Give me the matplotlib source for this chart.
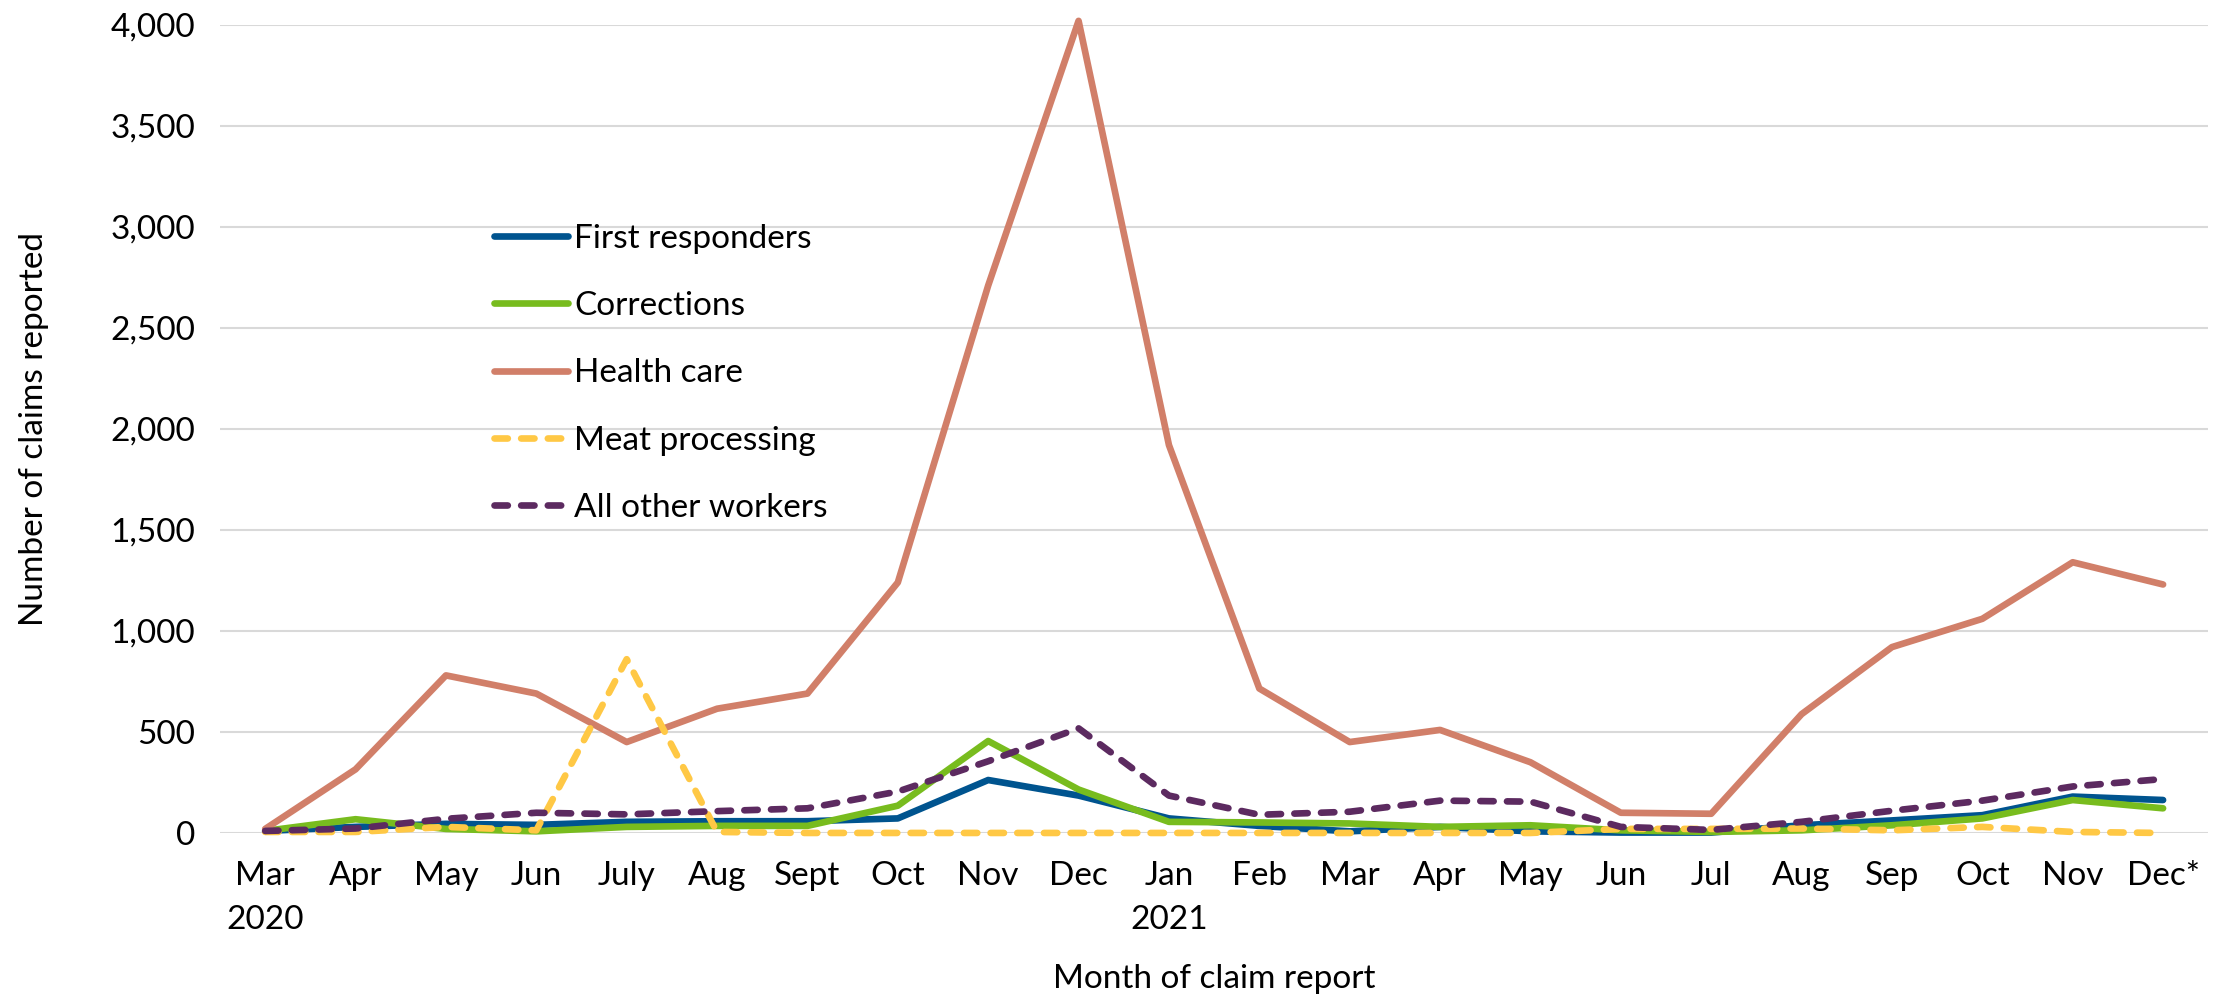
import matplotlib.pyplot as plt
import numpy as np

months = ['Mar\n2020', 'Apr', 'May', 'Jun', 'July', 'Aug', 'Sept', 'Oct', 'Nov', 'Dec',
          'Jan\n2021', 'Feb', 'Mar', 'Apr', 'May', 'Jun', 'Jul', 'Aug', 'Sep', 'Oct', 'Nov', 'Dec*']

first_responders = [10, 30, 45, 40, 55, 58, 58, 72, 262, 185,
                    72, 35, 8, 30, 8, 2, 2, 38, 62, 88, 180, 163]
corrections = [10, 68, 20, 8, 30, 35, 35, 135, 455, 215,
               55, 52, 47, 30, 38, 13, 5, 13, 38, 72, 163, 122]
health_care = [20, 315, 780, 690, 450, 615, 690, 1240, 2710, 4020,
               1920, 715, 450, 510, 350, 100, 95, 588, 920, 1060, 1340, 1230]
meat_processing = [5, 5, 30, 13, 860, 5, 0, 0, 0, 0,
                   0, 0, 0, 0, 0, 20, 20, 22, 13, 30, 5, 0]
all_other = [10, 22, 70, 100, 92, 108, 122, 205, 355, 518,
             185, 90, 105, 160, 155, 30, 15, 55, 110, 160, 230, 267]

plt.rcParams['font.family'] = ['Lato', 'DejaVu Sans']
fs = 24

fig = plt.figure(figsize=(22.29, 9.96), dpi=100)
ax = fig.add_axes([0.0987, 0.1637, 0.892, 0.8113])

x = np.arange(len(months))
lw = 4.8
ax.plot(x, first_responders, color='#00548f', lw=lw, label='First responders',
        solid_capstyle='round', clip_on=False)
ax.plot(x, corrections, color='#78bc1e', lw=lw, label='Corrections',
        solid_capstyle='round', clip_on=False)
ax.plot(x, health_care, color='#d17f69', lw=lw, label='Health care',
        solid_capstyle='round', clip_on=False)
ax.plot(x, meat_processing, color='#ffc845', lw=lw, ls=(0, (2.0, 2.0)), dash_capstyle='round',
        label='Meat processing', clip_on=False)
ax.plot(x, all_other, color='#5c2a60', lw=lw, ls=(0, (2.0, 2.0)), dash_capstyle='round',
        label='All other workers', clip_on=False)

ax.set_xlim(-0.5, len(months) - 0.5)
ax.set_ylim(0, 4000)
ax.set_yticks(np.arange(0, 4001, 500))
ax.yaxis.set_major_formatter(plt.FuncFormatter(lambda v, p: f'{int(v):,}'))
ax.set_xticks(x)
ax.set_xticklabels(months, va='top', linespacing=1.6)
ax.tick_params(axis='both', length=0, labelsize=fs)
ax.tick_params(axis='y', pad=18)
ax.tick_params(axis='x', pad=20)
ax.grid(axis='y', color='#d9d9d9', lw=1.5)
ax.set_axisbelow(True)
for s in ax.spines.values():
    s.set_visible(False)

ax.set_ylabel('Number of claims reported', fontsize=fs, labelpad=44)
ax.set_xlabel('Month of claim report', fontsize=fs, labelpad=21)

ax.legend(loc='upper left', bbox_to_anchor=(0.138, 0.754), frameon=False, fontsize=fs,
          handlelength=2.2, handletextpad=0.2, labelspacing=1.12, borderpad=0, borderaxespad=0)

fig.savefig('out.png', dpi=100)
